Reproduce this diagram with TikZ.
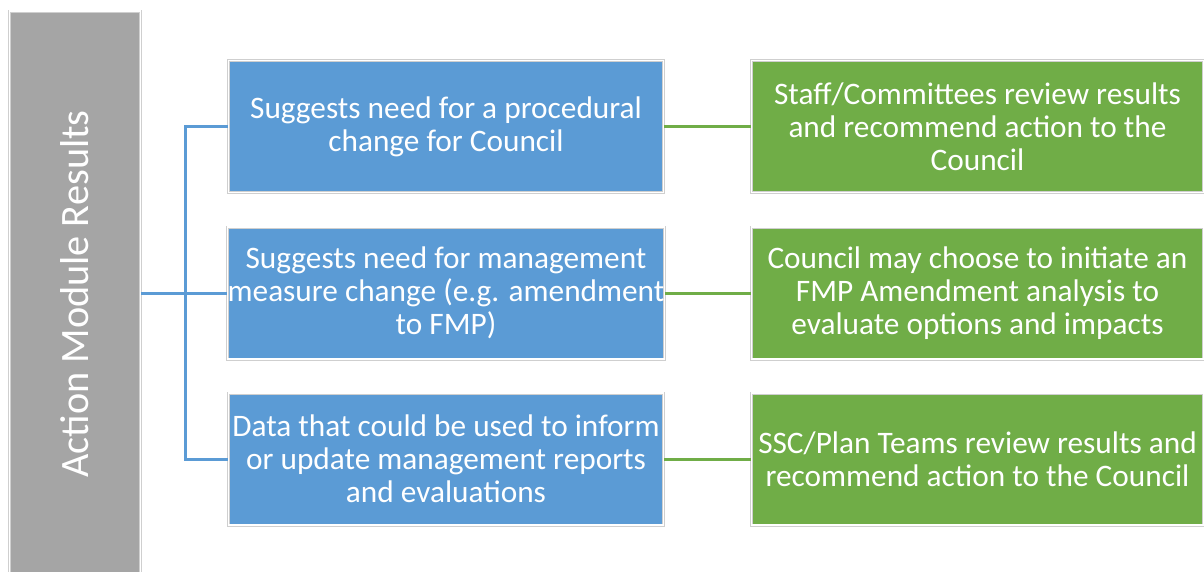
\documentclass[tikz,border=0pt]{standalone}
\usepackage{fontspec}
\setmainfont{Carlito}
\definecolor{boxblue}{HTML}{5B9BD5}
\definecolor{boxgreen}{HTML}{70AD47}
\definecolor{boxgray}{HTML}{A5A5A5}
\definecolor{rimgray}{HTML}{CFCFCF}
\begin{document}
\begin{tikzpicture}[x=1pt,y=-1pt,
  boxbase/.style={rectangle, inner sep=0pt, align=center, text=white,
    draw=rimgray, line width=0.8pt, double=white, double distance=1.4pt,
    font=\fontsize{31.3}{33}\selectfont},
  bluebox/.style={boxbase, fill=boxblue, minimum width=435pt, minimum height=132pt},
  greenbox/.style={boxbase, fill=boxgreen, minimum width=452pt, minimum height=132pt},
  graybox/.style={boxbase, fill=boxgray, minimum width=131pt, minimum height=600pt},
  blueline/.style={draw=boxblue, line width=3pt},
  greenline/.style={draw=boxgreen, line width=3pt}]
\clip (0,0) rectangle (1204,571);
\fill[white] (0,0) rectangle (1204,571);
\node[graybox] (g) at (75,311) {};
\node[text=white, rotate=90, font=\fontsize{40.3}{48}\selectfont] (gl) at (75,294) {Action Module Results};
\node[bluebox] (b1) at (446,126.5) {Suggests need for a procedural\\change for Council};
\node[bluebox] (b2) at (446,293) {Suggests need for management\\measure change (e.g. amendment\\to FMP)};
\node[bluebox] (b3) at (446,459) {Data that could be used to inform\\or update management reports\\and evaluations};
\node[greenbox] (c1) at (977.5,126.5) {Staff/Committees review results\\and recommend action to the\\Council};
\node[greenbox] (c2) at (977.5,293) {Council may choose to initiate an\\FMP Amendment analysis to\\evaluate options and impacts};
\node[greenbox] (c3) at (977.5,459) {SSC/Plan Teams review results and\\recommend action to the Council};
\coordinate (j) at (185,293);
\draw[blueline] (g.east |- b2.west) -- (b2.west);
\draw[blueline] (b1.west) -| (j) |- (b3.west);
\draw[greenline] (b1.east) -- (c1.west);
\draw[greenline] (b2.east) -- (c2.west);
\draw[greenline] (b3.east) -- (c3.west);
\end{tikzpicture}
\end{document}
